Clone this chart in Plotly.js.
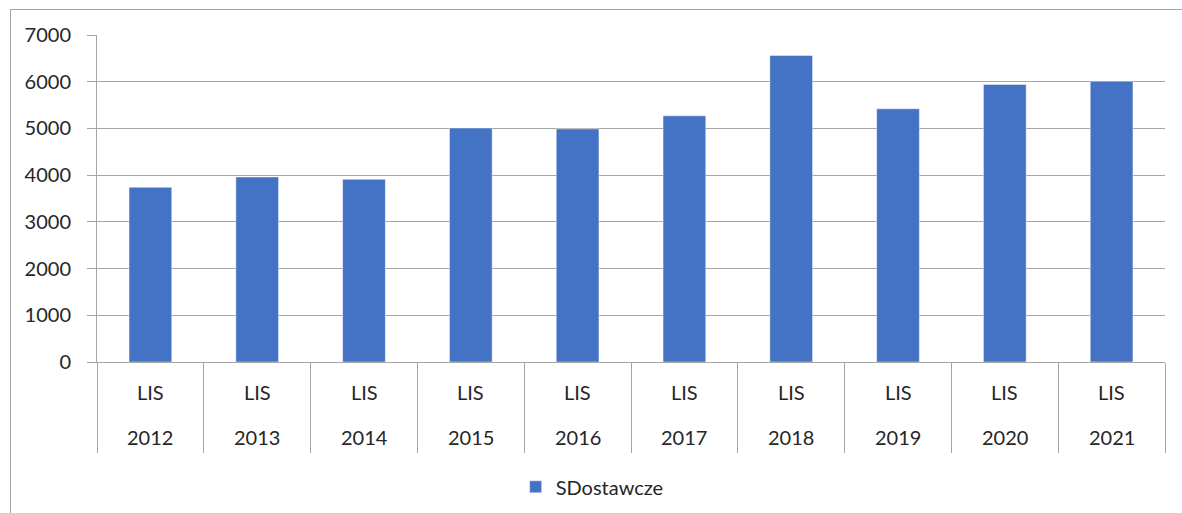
<!DOCTYPE html>
<html>
<head>
<meta charset="utf-8">
<script src="https://cdn.plot.ly/plotly-3.0.1.min.js"></script>
<style>
html,body{margin:0;padding:0;background:#fff;}
#chart{width:1182px;height:513px;position:absolute;left:0;top:0;}
#frame{position:absolute;left:10px;top:9px;width:1200px;height:600px;border:1px solid #a6a6a6;pointer-events:none;}
</style>
</head>
<body>
<div id="chart"></div>
<div id="frame"></div>
<script>
const years = ["2012","2013","2014","2015","2016","2017","2018","2019","2020","2021"];
const groups = ["LIS","LIS","LIS","LIS","LIS","LIS","LIS","LIS","LIS","LIS"];
const values = [3740, 3960, 3910, 5010, 4990, 5270, 6560, 5420, 5940, 6010];
const seriesName = "SDostawcze";
const yTicks = [0, 1000, 2000, 3000, 4000, 5000, 6000, 7000];

const font = {family: "Lato, 'Open Sans', sans-serif", size: 20, color: "#262626"};

const annotations = [];
years.forEach((yr, i) => {
  annotations.push({x: i, xref: "x", y: 0, yref: "paper", yanchor: "middle",
    yshift: -30, text: groups[i], showarrow: false, font: font});
  annotations.push({x: i, xref: "x", y: 0, yref: "paper", yanchor: "middle",
    yshift: -75, text: yr, showarrow: false, font: font});
});

Plotly.newPlot("chart", [{
  type: "bar",
  x: years,
  y: values,
  name: seriesName,
  marker: {color: "#4472C4", line: {color: "rgba(255,255,255,0.45)", width: 1}},
  showlegend: true
}], {
  width: 1182, height: 513,
  margin: {l: 97, r: 17, t: 35, b: 151},
  paper_bgcolor: "#fff", plot_bgcolor: "#fff",
  font: font,
  bargap: 0.6,
  annotations: annotations,
  xaxis: {
    type: "category",
    range: [-0.5, years.length - 0.5],
    automargin: false,
    showline: true, linecolor: "#a6a6a6", linewidth: 1,
    ticks: "outside", tickson: "boundaries", ticklen: 90, tickcolor: "#a6a6a6", tickwidth: 1,
    showticklabels: false, showgrid: false
  },
  yaxis: {
    range: [0, 7000],
    automargin: false,
    tickvals: yTicks,
    showgrid: true, gridcolor: "#a6a6a6", gridwidth: 1,
    showline: true, linecolor: "#a6a6a6", linewidth: 1,
    ticks: "outside", ticklen: 9, tickcolor: "#a6a6a6",
    ticklabelstandoff: 12,
    zeroline: false,
    tickfont: font
  },
  legend: {
    orientation: "h", x: 0.392, xanchor: "left",
    yref: "container", y: 0.051, yanchor: "middle",
    font: font
  }
}, {displayModeBar: false, staticPlot: true});
</script>
</body>
</html>
